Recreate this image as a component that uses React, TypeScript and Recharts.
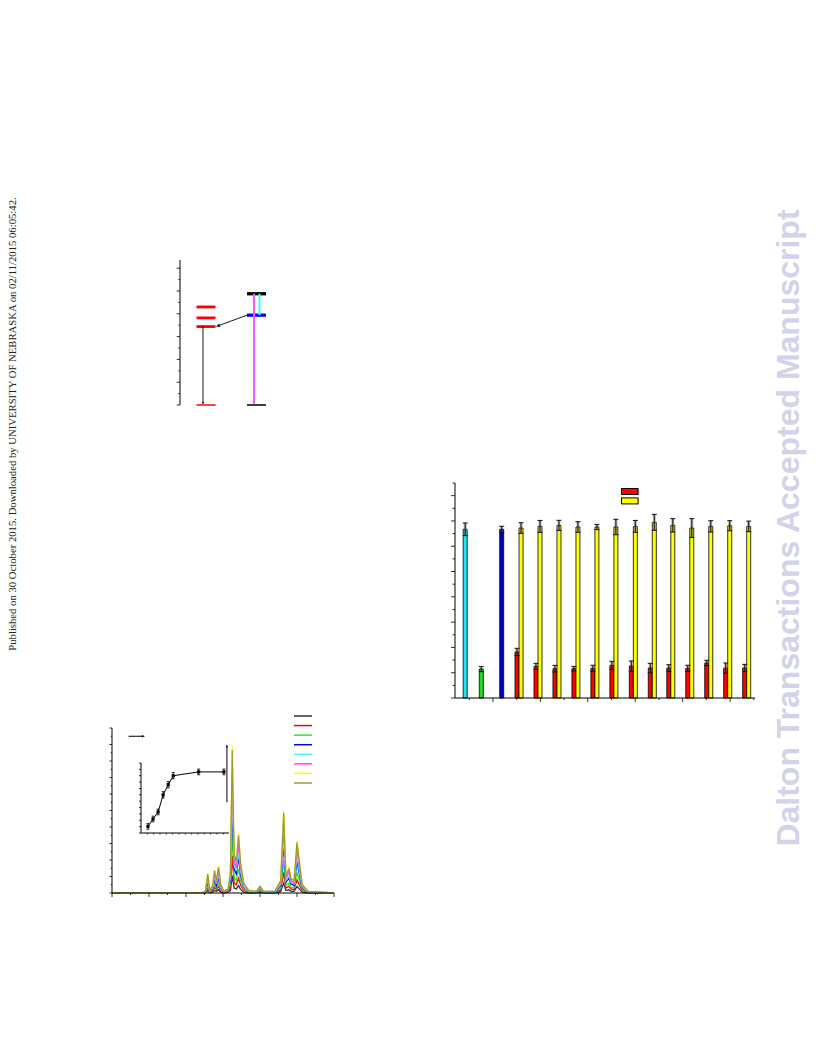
import React from 'react';
import {
  ComposedChart,
  Bar,
  Cell,
  ErrorBar,
  Line,
  XAxis,
  YAxis,
  ReferenceLine,
  Legend,
} from 'recharts';

// ---------- bar chart (emission intensity per sample) ----------
const refBarX = [0.83, 1.51, 2.37];
const refBarValues = [13.34, 2.29, 13.34];
const refBarErrors = [0.5, 0.21, 0.24];
const refBarColors = ['#22e6ee', '#22dd22', '#0000cc'];

const pairX = [3.1, 3.9, 4.7, 5.5, 6.3, 7.1, 7.92, 8.72, 9.5, 10.3, 11.1, 11.9, 12.7];
const redValues = [3.64, 2.5, 2.32, 2.32, 2.35, 2.58, 2.53, 2.37, 2.37, 2.35, 2.77, 2.37, 2.37];
const redErrors = [0.29, 0.24, 0.26, 0.18, 0.24, 0.32, 0.4, 0.37, 0.26, 0.24, 0.21, 0.4, 0.29];
const yellowValues = [13.44, 13.57, 13.65, 13.52, 13.52, 13.52, 13.57, 13.89, 13.65, 13.44, 13.57, 13.62, 13.57];
const yellowErrors = [0.42, 0.47, 0.4, 0.42, 0.21, 0.61, 0.47, 0.63, 0.53, 0.74, 0.45, 0.4, 0.42];
const RED = '#ff0000';
const YELLOW = '#ffff00';
const barLegendColors = [RED, YELLOW];

const barXTicks = [1, 2, 3, 4, 5, 6, 7, 8, 9, 10, 11, 12, 13];
const barYTicks = [0, 1, 2, 3, 4, 5, 6, 7, 8, 9, 10, 11, 12, 13, 14, 15, 16, 17];

// ---------- emission spectra (titration) ----------
const wavelengths = [450, 570, 576, 579.5, 582, 586, 588.5, 591, 594, 597, 601, 607, 610, 612.5, 615, 618, 621, 624, 628, 635, 645, 650, 655, 670, 678, 682, 685, 689, 692, 696, 700, 703, 707, 715, 750];
const specBlack = [0, 0, 0, 0.3, 0, 0.1, 0.3, 0.2, 0.4, 0.1, 0, 0.1, 0.3, 2.1, 0.6, 0.5, 0.9, 0.4, 0.1, 0, 0, 0.1, 0, 0, 0.2, 1.2, 0.3, 0.4, 0.2, 0.2, 0.8, 0.5, 0.1, 0, 0];
const specRed = [0, 0, 0, 0.6, 0.1, 0.2, 0.7, 0.4, 0.8, 0.3, 0.1, 0.1, 0.6, 4.5, 1.2, 1.0, 1.8, 0.9, 0.3, 0.1, 0.1, 0.2, 0.1, 0.1, 0.4, 2.5, 0.6, 0.8, 0.5, 0.4, 1.6, 1.0, 0.3, 0.1, 0];
const specGreen = [0, 0, 0, 1.0, 0.1, 0.4, 1.1, 0.6, 1.3, 0.4, 0.1, 0.2, 1.0, 7.1, 1.9, 1.5, 2.9, 1.4, 0.5, 0.1, 0.1, 0.3, 0.1, 0.1, 0.6, 4.0, 0.9, 1.2, 0.7, 0.6, 2.5, 1.6, 0.4, 0.1, 0];
const specBlue = [0, 0, 0.1, 1.4, 0.2, 0.5, 1.7, 0.9, 1.9, 0.6, 0.1, 0.3, 1.5, 10.7, 2.9, 2.3, 4.3, 2.1, 0.7, 0.2, 0.1, 0.5, 0.1, 0.1, 0.9, 6.0, 1.3, 1.8, 1.1, 0.9, 3.8, 2.4, 0.6, 0.1, 0];
const specCyan = [0, 0, 0.1, 1.7, 0.2, 0.6, 2.0, 1.1, 2.2, 0.7, 0.1, 0.4, 1.8, 12.5, 3.4, 2.7, 5.0, 2.5, 0.8, 0.2, 0.1, 0.6, 0.1, 0.1, 1.1, 7.0, 1.5, 2.1, 1.3, 1.1, 4.4, 2.8, 0.7, 0.1, 0];
const specMagenta = [0, 0, 0.1, 2.0, 0.2, 0.7, 2.3, 1.2, 2.6, 0.8, 0.2, 0.4, 2.1, 14.6, 3.9, 3.1, 5.9, 2.9, 1.0, 0.2, 0.2, 0.7, 0.2, 0.2, 1.2, 8.2, 1.8, 2.5, 1.5, 1.2, 5.2, 3.3, 0.8, 0.2, 0];
const specYellow = [0, 0, 0.1, 2.4, 0.3, 0.9, 2.8, 1.5, 3.2, 1.0, 0.2, 0.5, 2.5, 17.8, 4.8, 3.8, 7.2, 3.5, 1.2, 0.3, 0.2, 0.85, 0.2, 0.2, 1.5, 10.0, 2.2, 3.0, 1.8, 1.5, 6.3, 4.0, 1.0, 0.2, 0];
const specOlive = [0, 0, 0.1, 2.3, 0.3, 0.9, 2.7, 1.5, 3.1, 1.0, 0.2, 0.5, 2.4, 17.3, 4.7, 3.7, 7.0, 3.4, 1.2, 0.3, 0.2, 0.8, 0.2, 0.2, 1.5, 9.7, 2.1, 2.9, 1.7, 1.5, 6.1, 3.9, 1.0, 0.2, 0];
const specSeries = [specBlack, specRed, specGreen, specBlue, specCyan, specMagenta, specYellow, specOlive];
const specColors = ['#333333', '#ff0000', '#22ee22', '#0000ff', '#44ffff', '#ff44ff', '#ffff00', '#9c9a38'];

const specXTicks = [450, 475, 500, 525, 550, 575, 600, 625, 650, 675, 700, 725, 750];
const specYTicks = [0, 1, 2, 3, 4, 5, 6, 7, 8, 9, 10, 11, 12, 13, 14, 15, 16, 17, 18, 19, 20];

// inset: intensity vs. added equivalents
const insetX = [1.1, 1.9, 2.7, 3.5, 4.3, 5.1, 9.1, 13.1];
const insetY = [1.04, 2.2, 3.3, 6.0, 7.6, 9.0, 9.6, 9.6];
const insetErr = [0.45, 0.45, 0.45, 0.5, 0.5, 0.5, 0.45, 0.45];
const insetXTicks = [1, 2, 3, 4, 5, 6, 7, 8, 9, 10, 11, 12, 13];
const insetYTicks = [0, 1, 2, 3, 4, 5, 6, 7, 8, 9, 10, 11];

// ---------- energy level diagram (10^3 cm-1) ----------
const euLevels = [21.5, 19.1, 17.2]; // 5D2, 5D1, 5D0
const ligandS1 = 24.4;
const ligandT1 = 19.7;
const energyTicks = [0, 2.5, 5, 7.5, 10, 12.5, 15, 17.5, 20, 22.5, 25, 27.5, 30];

// column positions of the diagram (x axis 0..10)
const EU_L = 1.65;
const EU_R = 3.55;
const LIG_L = 6.7;
const LIG_R = 8.6;

const barRows = [
  ...refBarX.map((x, i) => ({ x, value: refBarValues[i], err: refBarErrors[i], color: refBarColors[i] })),
  ...pairX.flatMap((c, i) => [
    { x: c - 0.085, value: redValues[i], err: redErrors[i], color: RED },
    { x: c + 0.085, value: yellowValues[i], err: yellowErrors[i], color: YELLOW },
  ]),
];

const specRows = wavelengths.map((wl, i) => {
  const row: Record<string, number> = { wl };
  specSeries.forEach((s, k) => {
    row['s' + k] = s[i];
  });
  return row;
});

const insetRows = insetX.map((x, i) => ({ x, y: insetY[i], err: insetErr[i] }));

const energyRows = [
  ...euLevels.map((e) => ({ x: EU_L, e })),
  { x: LIG_L, e: ligandS1 },
  { x: LIG_L, e: ligandT1 },
  { x: EU_L, e: 0 },
];

const makeTick = (side: 'left' | 'bottom', isMajor: (v: number) => boolean, long: number, short: number) =>
  (props: any) => {
    const { x, y, payload } = props;
    const len = isMajor(payload.value) ? long : short;
    return side === 'left' ? (
      <line x1={x} y1={y} x2={x - len} y2={y} stroke="#000" strokeWidth={0.8} />
    ) : (
      <line x1={x} y1={y} x2={x} y2={y + len} stroke="#000" strokeWidth={0.8} />
    );
  };

const arrowShape = (color: string, width: number, head: number) => (props: any) => {
  const { x1, y1, x2, y2 } = props;
  const a = Math.atan2(y2 - y1, x2 - x1);
  const bx = x2 - head * Math.cos(a);
  const by = y2 - head * Math.sin(a);
  const w = head * 0.45;
  const pts = `${x2},${y2} ${bx + w * Math.sin(a)},${by - w * Math.cos(a)} ${bx - w * Math.sin(a)},${by + w * Math.cos(a)}`;
  return (
    <g>
      <line x1={x1} y1={y1} x2={bx} y2={by} stroke={color} strokeWidth={width} />
      <polygon points={pts} fill={color} />
    </g>
  );
};

const isEven = (v: number) => Math.round(v) % 2 === 0;

const BarLegend = () => (
  <svg width={20} height={18} style={{ display: 'block' }}>
    {barLegendColors.map((c, i) => (
      <rect key={c} x={0.5} y={0.5 + i * 9.4} width={16.6} height={6} fill={c} stroke="#000" strokeWidth={1} />
    ))}
  </svg>
);

const SpecLegend = () => (
  <svg width={20} height={80} style={{ display: 'block' }}>
    {specColors.map((c, i) => (
      <line key={c} x1={0} x2={18} y1={4 + i * 9.57} y2={4 + i * 9.57} stroke={c} strokeWidth={1.5} />
    ))}
  </svg>
);

const SquareDot = (props: any) => {
  const { cx, cy } = props;
  return <rect x={cx - 1.6} y={cy - 1.6} width={3.2} height={3.2} fill="#000" />;
};

const abs = (left: number, top: number): React.CSSProperties => ({ position: 'absolute', left, top });

export default function App() {
  return (
    <div style={{ position: 'absolute', left: 0, top: 0, width: 816, height: 1056, background: '#fff', overflow: 'hidden' }}>
      {/* side stamp */}
      <div
        style={{
          position: 'absolute',
          left: 12 - 250,
          top: 424 - 7,
          width: 500,
          height: 14,
          lineHeight: '14px',
          fontSize: 10.7,
          fontFamily: '"Liberation Serif", "Times New Roman", serif',
          color: '#222',
          textAlign: 'center',
          whiteSpace: 'nowrap',
          transform: 'rotate(-90deg)',
        }}
      >
        Published on 30 October 2015. Downloaded by UNIVERSITY OF NEBRASKA on 02/11/2015 06:05:42.
      </div>

      {/* watermark */}
      <div
        style={{
          position: 'absolute',
          left: 788 - 360,
          top: 528 - 20,
          width: 720,
          height: 40,
          lineHeight: '40px',
          fontSize: 32,
          fontWeight: 'bold',
          fontFamily: '"Liberation Sans", Arial, sans-serif',
          color: '#d2d2e8',
          textAlign: 'center',
          whiteSpace: 'nowrap',
          transform: 'rotate(-90deg)',
        }}
      >
        Dalton Transactions Accepted Manuscript
      </div>

      {/* energy level diagram */}
      <div style={abs(160, 260)}>
        <ComposedChart width={120} height={147} data={energyRows} margin={{ top: 0, right: 0, bottom: 2, left: 0 }}>
          <XAxis type="number" dataKey="x" domain={[0, 10]} allowDataOverflow hide />
          <YAxis
            type="number"
            dataKey="e"
            domain={[0, 31.8]}
            allowDataOverflow
            ticks={energyTicks}
            interval={0}
            width={20}
            stroke="#000"
            tickSize={0}
            tickMargin={0}
            tickLine={false}
            tick={makeTick('left', (v) => v % 5 === 0, 3.3, 1.7)}
          />
          {euLevels.map((e) => (
            <ReferenceLine key={e} segment={[{ x: EU_L, y: e }, { x: EU_R, y: e }]} stroke="#ff0000" strokeWidth={2.8} ifOverflow="visible" />
          ))}
          <ReferenceLine segment={[{ x: EU_L, y: 0 }, { x: EU_R, y: 0 }]} stroke="#ff0000" strokeWidth={1.5} ifOverflow="visible" />
          <ReferenceLine segment={[{ x: LIG_L, y: ligandS1 }, { x: LIG_R, y: ligandS1 }]} stroke="#000" strokeWidth={3.3} ifOverflow="visible" />
          <ReferenceLine segment={[{ x: LIG_L, y: ligandT1 }, { x: LIG_R, y: ligandT1 }]} stroke="#0000ff" strokeWidth={3.3} ifOverflow="visible" />
          <ReferenceLine segment={[{ x: LIG_L, y: 0 }, { x: LIG_R, y: 0 }]} stroke="#000" strokeWidth={1.5} ifOverflow="visible" />
          <ReferenceLine segment={[{ x: 7.4, y: ligandS1 }, { x: 7.4, y: 0.3 }]} stroke="#ff55ff" strokeWidth={2} ifOverflow="visible" />
          <ReferenceLine segment={[{ x: 7.95, y: ligandS1 }, { x: 7.95, y: ligandT1 }]} stroke="#33ffff" strokeWidth={2} ifOverflow="visible" />
          <ReferenceLine
            segment={[{ x: 2.3, y: euLevels[2] }, { x: 2.3, y: 0.1 }]}
            shape={arrowShape('#000', 0.9, 2.5)}
            ifOverflow="visible"
          />
          <ReferenceLine
            segment={[{ x: LIG_L, y: ligandT1 }, { x: EU_R + 0.05, y: euLevels[2] }]}
            shape={arrowShape('#000', 0.9, 4)}
            ifOverflow="visible"
          />
        </ComposedChart>
      </div>

      {/* bar chart */}
      <div style={abs(425, 473)}>
        <ComposedChart width={335} height={245} data={barRows} margin={{ top: 10, right: 5, bottom: 0, left: 0 }}>
          <XAxis
            type="number"
            dataKey="x"
            domain={[0.4, 13.05]}
            ticks={barXTicks}
            interval={0}
            height={20}
            stroke="#000"
            allowDataOverflow
            tickSize={0}
            tickMargin={0}
            tickLine={false}
            tick={makeTick('bottom', isEven, 4, 2)}
          />
          <YAxis
            type="number"
            domain={[0, 17]}
            ticks={barYTicks}
            interval={0}
            width={30}
            stroke="#000"
            tickSize={0}
            tickMargin={0}
            tickLine={false}
            tick={makeTick('left', isEven, 4, 2.5)}
          />
          <Bar dataKey="value" barSize={4} stroke="#000" strokeWidth={0.8} isAnimationActive={false}>
            {barRows.map((r, i) => (
              <Cell key={i} fill={r.color} />
            ))}
            <ErrorBar dataKey="err" width={0} strokeWidth={3} stroke="#666" strokeOpacity={0.45} />
            <ErrorBar dataKey="err" width={2.5} strokeWidth={1} stroke="#111" />
          </Bar>
          <Legend
            layout="vertical"
            align="center"
            verticalAlign="middle"
            content={() => <BarLegend />}
            wrapperStyle={{ left: 621.7 - 0.5 - 425, top: 488.3 - 0.5 - 473, width: 20, height: 18 }}
          />
        </ComposedChart>
      </div>

      {/* spectra */}
      <div style={abs(82, 705)}>
        <ComposedChart width={255} height={208} data={specRows} margin={{ top: 23, right: 3, bottom: 0, left: 0 }}>
          <XAxis
            type="number"
            dataKey="wl"
            domain={[450, 750]}
            ticks={specXTicks}
            interval={0}
            height={20}
            stroke="#000"
            tickSize={0}
            tickMargin={0}
            tickLine={false}
            tick={makeTick('bottom', (v) => v % 50 === 0, 4, 2)}
          />
          <YAxis
            type="number"
            domain={[0, 20]}
            ticks={specYTicks}
            interval={0}
            width={30}
            stroke="#000"
            tickSize={0}
            tickMargin={0}
            tickLine={false}
            tick={makeTick('left', isEven, 2.5, 1.3)}
          />
          {specColors.map((c, k) => (
            <Line
              key={c}
              type="linear"
              dataKey={'s' + k}
              stroke={c}
              strokeWidth={1.3}
              dot={false}
              isAnimationActive={false}
            />
          ))}
          <ReferenceLine segment={[{ x: 472.5, y: 19.0 }, { x: 494.5, y: 19.0 }]} shape={arrowShape('#000', 1, 3)} />
          <ReferenceLine segment={[{ x: 605.3, y: 11.0 }, { x: 605.3, y: 18.0 }]} shape={arrowShape('#000', 1, 3)} />
          <Legend
            layout="vertical"
            align="center"
            verticalAlign="middle"
            content={() => <SpecLegend />}
            wrapperStyle={{ left: 294.3 - 82, top: 715.7 - 4 - 705, width: 20, height: 80 }}
          />
        </ComposedChart>
      </div>

      {/* inset */}
      <div style={abs(131, 761)}>
        <ComposedChart width={100} height={82} data={insetRows} margin={{ top: 2, right: 2, bottom: 0, left: 0 }}>
          <XAxis
            type="number"
            dataKey="x"
            domain={[0, 13.9]}
            ticks={insetXTicks}
            interval={0}
            height={10}
            stroke="#000"
            tickSize={0}
            tickMargin={0}
            tickLine={false}
            tick={makeTick('bottom', () => true, 1.5, 1.5)}
          />
          <YAxis
            type="number"
            domain={[0, 11]}
            ticks={insetYTicks}
            interval={0}
            width={10}
            stroke="#000"
            tickSize={0}
            tickMargin={0}
            tickLine={false}
            tick={makeTick('left', () => true, 2, 2)}
          />
          <Line type="linear" dataKey="y" stroke="#000" strokeWidth={1} dot={<SquareDot />} isAnimationActive={false}>
            <ErrorBar dataKey="err" width={1.5} strokeWidth={0.8} stroke="#000" />
          </Line>
        </ComposedChart>
      </div>
    </div>
  );
}
